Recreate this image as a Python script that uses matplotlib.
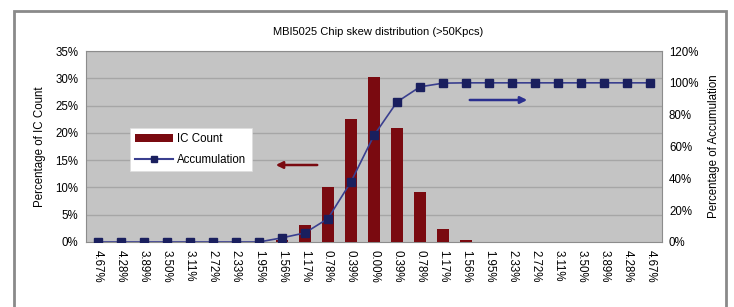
import matplotlib
matplotlib.use("Agg")
import matplotlib.pyplot as plt
from matplotlib.patches import Rectangle, FancyArrowPatch
from matplotlib.lines import Line2D
from matplotlib.patches import Patch

plt.rcParams['font.family'] = ['Liberation Sans', 'DejaVu Sans']

categories = ["4.67%", "4.28%", "3.89%", "3.50%", "3.11%", "2.72%", "2.33%", "1.95%",
              "1.56%", "1.17%", "0.78%", "0.39%", "0.00%", "0.39%", "0.78%", "1.17%",
              "1.56%", "1.95%", "2.33%", "2.72%", "3.11%", "3.50%", "3.89%", "4.28%", "4.67%"]
ic_count = [0, 0, 0, 0, 0, 0, 0, 0, 0.3, 3.2, 10.1, 22.6, 30.3, 20.8, 9.2, 2.3,
            0.45, 0, 0, 0, 0, 0, 0, 0, 0]
accumulation = [0, 0, 0, 0, 0, 0, 0, 0, 2.6, 5.7, 14.7, 37.8, 67.0, 88.0, 97.5, 99.8,
                100, 100, 100, 100, 100, 100, 100, 100, 100]
left_ticks = [0, 5, 10, 15, 20, 25, 30, 35]
right_ticks = [0, 20, 40, 60, 80, 100, 120]

W, H = 734, 307
fig = plt.figure(figsize=(W / 100, H / 100), dpi=100)
fig.patch.set_facecolor("white")

# outer frame
fig.patches.append(Rectangle((14 / W, -0.05), (726 - 14) / W, 1.05 - 11 / H,
                             transform=fig.transFigure, fill=False,
                             edgecolor="#8a8a8a", linewidth=2.0))

ax = fig.add_axes([86 / W, 65 / H, 576 / W, 191 / H])
ax.set_facecolor("#c4c4c4")
x = list(range(len(categories)))
ax.bar(x, ic_count, width=0.5, color="#7a0a10", zorder=3)
ax.set_xlim(-0.5, len(categories) - 0.5)
ax.set_ylim(0, 35)
ax.set_yticks(left_ticks)
ax.set_yticklabels([f"{t}%" for t in left_ticks], fontsize=8.3)
ax.set_xticks(x)
ax.set_xticklabels(categories, rotation=270, fontsize=8.3)
ax.tick_params(length=0, pad=5.5)
for t in left_ticks[1:]:
    ax.axhline(t, color="#a6a6a6", linewidth=1.0, zorder=1)
for s in ax.spines.values():
    s.set_color("#8c8c8c")
    s.set_linewidth(0.8)
ax.set_ylabel("Percentage of IC Count", fontsize=8.3, labelpad=7)

ax2 = ax.twinx()
ax2.plot(x, accumulation, color="#3a3f8f", linewidth=1.2, marker="s",
         markersize=5.5, markerfacecolor="#1a1f5e", markeredgecolor="#1a1f5e", zorder=4)
ax2.set_ylim(0, 120)
ax2.set_yticks(right_ticks)
ax2.set_yticklabels([f"{t}%" for t in right_ticks], fontsize=8.3)
ax2.tick_params(length=0, pad=5)
for s in ax2.spines.values():
    s.set_visible(False)
ax2.set_ylabel("Percentage of Accumulation", fontsize=8.3, labelpad=7, rotation=90)

fig.text(378 / W, 1 - 32 / H, "MBI5025 Chip skew distribution (>50Kpcs)",
         fontsize=8, ha="center", va="center")

handles = [Patch(facecolor="#7a0a10", edgecolor="none", label="IC Count"),
           Line2D([0], [0], color="#3a3f8f", marker="s", markersize=4,
                  markerfacecolor="#1a1f5e", markeredgecolor="#1a1f5e",
                  label="Accumulation")]
leg = fig.legend(handles=handles, loc="upper left",
                 bbox_to_anchor=(130 / W, 1 - 128 / H), fontsize=8.3,
                 frameon=True, fancybox=False, framealpha=1, edgecolor="#dddddd",
                 handlelength=3.3, handletextpad=0.35, borderpad=0.45,
                 labelspacing=0.75, borderaxespad=0)
leg.get_frame().set_linewidth(0.5)

# arrows
fig.patches.append(FancyArrowPatch((320 / W, 1 - 165 / H), (273 / W, 1 - 165 / H),
                                   transform=fig.transFigure, arrowstyle="-|>",
                                   mutation_scale=10, color="#7a0a10", linewidth=1.8))
fig.patches.append(FancyArrowPatch((467 / W, 1 - 100 / H), (530 / W, 1 - 100 / H),
                                   transform=fig.transFigure, arrowstyle="-|>",
                                   mutation_scale=10, color="#2a2f8f", linewidth=1.8))

fig.savefig("out.png", dpi=100)
